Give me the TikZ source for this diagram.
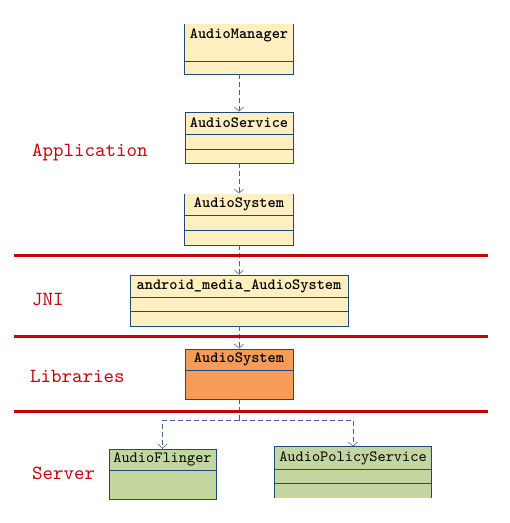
\documentclass[tikz,border=0pt]{standalone}
\usepackage{fontspec}
\setmonofont{lmmono10-regular.otf}[BoldFont=lmmonolt10-bold.otf]
\usepackage{tikz}
\usetikzlibrary{positioning,arrows.meta,calc}
\definecolor{cream}{RGB}{253,239,192}
\definecolor{libor}{RGB}{246,156,88}
\definecolor{srvgr}{RGB}{196,214,160}
\definecolor{umlblue}{RGB}{31,73,125}
\definecolor{layred}{RGB}{200,0,10}

\begin{document}
\begin{tikzpicture}[x=1pt, y=-1pt,
  cls/.style={rectangle, draw=umlblue, fill=#1, line width=0.9pt, inner sep=0pt},
  ttl/.style={font=\ttfamily\bfseries\fontsize{15.6}{16}\selectfont, inner sep=0pt},
  ttlr/.style={font=\ttfamily\fontsize{15.6}{16}\selectfont, inner sep=0pt},
  sep/.style={draw=umlblue, line width=0.9pt},
  dep/.style={draw=umlblue!85!white, line width=0.8pt, dash pattern=on 5pt off 3pt,
              -{Straight Barb[length=4pt,width=9pt,line width=0.6pt]}},
  layer/.style={draw=layred, line width=3pt},
  lay/.style={font=\ttfamily\fontsize{20}{21}\selectfont, text=layred, anchor=west, inner sep=0pt},
]
\useasboundingbox (0,0) rectangle (510,523);

% application layer
\node[cls=cream, draw=none, minimum width=108, minimum height=50] (am) at (239,49) {};
\draw[sep] (am.north west) -- (am.south west) -- (am.south east) -- (am.north east);
\draw[sep] (am.west |- 0,61) -- (am.east |- 0,61);
\node[ttl] (amt) at (239,35) {AudioManager};

\node[cls=cream, minimum width=108, minimum height=51] (as) at (239,137.5) {};
\draw[sep] (as.west |- 0,134) -- (as.east |- 0,134);
\draw[sep] (as.west |- 0,149) -- (as.east |- 0,149);
\node[ttl] (ast) at (239,123) {AudioService};

\node[cls=cream, draw=none, minimum width=108, minimum height=51] (sys) at (239,219.5) {};
\draw[sep] (sys.north west) -- (sys.south west) -- (sys.south east) -- (sys.north east);
\draw[sep] (sys.west |- 0,215) -- (sys.east |- 0,215);
\draw[sep] (sys.west |- 0,230) -- (sys.east |- 0,230);
\node[ttl] (syst) at (239,204) {AudioSystem};

% jni
\node[cls=cream, minimum width=218, minimum height=51] (jni) at (239,300.5) {};
\draw[sep] (jni.west |- 0,297) -- (jni.east |- 0,297);
\draw[sep] (jni.west |- 0,311) -- (jni.east |- 0,311);
\node[ttl] (jnit) at (239,286) {android\_media\_AudioSystem};

% libraries
\node[cls=libor, minimum width=108, minimum height=50] (lib) at (239,374) {};
\draw[sep] (lib.west |- 0,370) -- (lib.east |- 0,370);
\node[ttl] (libt) at (239,359) {AudioSystem};

% server
\node[cls=srvgr, minimum width=107, minimum height=50] (af) at (162.5,474) {};
\draw[sep] (af.west |- 0,470) -- (af.east |- 0,470);
\node[ttlr] (aft) at (162.5,459) {AudioFlinger};

\node[cls=srvgr, draw=none, minimum width=156, minimum height=51] (aps) at (353,472.5) {};
\draw[sep] (aps.south west) -- (aps.north west) -- (aps.north east) -- (aps.south east);
\draw[sep] (aps.west |- 0,469) -- (aps.east |- 0,469);
\draw[sep] (aps.west |- 0,483) -- (aps.east |- 0,483);
\node[ttlr] (apst) at (353,458) {AudioPolicyService};

% dependencies
\draw[dep] (am) -- (as);
\draw[dep] (as) -- (sys);
\draw[dep] (sys) -- (jni);
\draw[dep] (jni) -- (lib);
\coordinate (fork) at (239,420);
\draw[dep] (lib) -- (fork) -| (aps);
\draw[dep] (fork) -| (af);

% layer borders
\draw[layer] (14,255) -- (488,255);
\draw[layer] (14,336) -- (488,336);
\draw[layer] (14,411) -- (488,411);

\node[lay] (lapp) at (32,152) {Application};
\node[lay] (ljni) at (32,299) {JNI};
\node[lay] (llib) at (30,376) {Libraries};
\node[lay] (lsrv) at (32,473) {Server};
\end{tikzpicture}
\end{document}
